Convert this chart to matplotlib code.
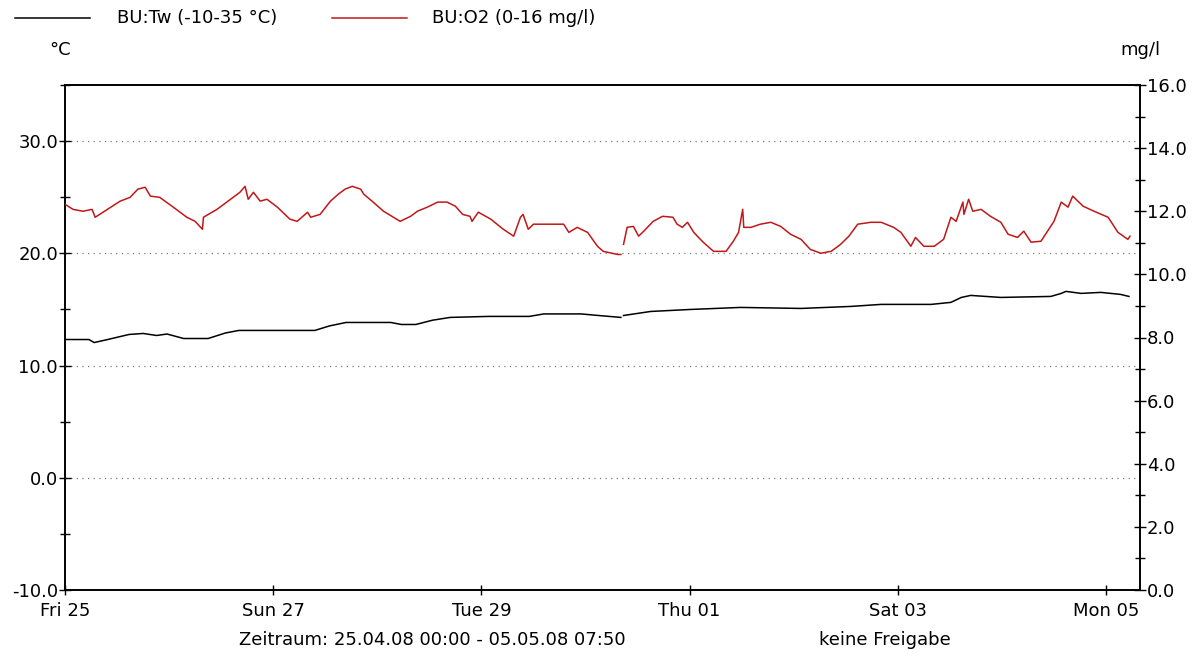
import numpy as np
import matplotlib
matplotlib.use("Agg")
import matplotlib.pyplot as plt
from matplotlib.lines import Line2D
from matplotlib.ticker import MultipleLocator, FormatStrFormatter

# time axis in days since 25.04.08 00:00
day_ticks = [0, 2, 4, 6, 8, 10]
day_labels = ["Fri 25", "Sun 27", "Tue 29", "Thu 01", "Sat 03", "Mon 05"]
period_end = 10 + 7 / 24 + 50 / 1440

# BU:Tw water temperature (left axis, degC)
tw_days = [0.0, 0.23, 0.28, 0.41, 0.615, 0.75, 0.88, 0.98, 1.14, 1.375, 1.54, 1.67,
           2.40, 2.54, 2.70, 3.13, 3.23, 3.37, 3.53, 3.70, 4.07, 4.46, 4.60, 4.96,
           5.125, 5.34, 5.35, 5.365, 5.625, 6.01, 6.49, 7.07, 7.55, 7.84, 8.32, 8.51,
           8.61, 8.70, 8.99, 9.47, 9.57, 9.615, 9.76, 9.95, 10.14, 10.22]
tw_vals = [12.32, 12.32, 12.05, 12.32, 12.77, 12.86, 12.68, 12.81, 12.41, 12.41, 12.90, 13.13,
           13.13, 13.53, 13.84, 13.84, 13.66, 13.66, 14.04, 14.29, 14.38, 14.38, 14.60, 14.60,
           14.46, 14.29, np.nan, 14.46, 14.82, 15.0, 15.18, 15.09, 15.27, 15.45, 15.45, 15.63,
           16.07, 16.25, 16.07, 16.16, 16.43, 16.61, 16.43, 16.52, 16.34, 16.16]

# BU:O2 dissolved oxygen (right axis, mg/l)
o2_days = [0.0, 0.077, 0.173, 0.26, 0.29, 0.365, 0.53, 0.625, 0.70, 0.77, 0.82, 0.91,
           1.04, 1.17, 1.25, 1.32, 1.33, 1.46, 1.59, 1.68, 1.73, 1.76, 1.81, 1.875,
           1.94, 2.04, 2.16, 2.23, 2.33, 2.36, 2.45, 2.55, 2.625, 2.69, 2.76, 2.84,
           2.87, 2.96, 3.06, 3.22, 3.32, 3.385, 3.48, 3.58, 3.67, 3.75, 3.82, 3.89,
           3.91, 3.97, 4.09, 4.21, 4.31, 4.375, 4.40, 4.45, 4.50, 4.63, 4.79, 4.84,
           4.92, 5.02, 5.115, 5.17, 5.31, 5.34, 5.35, 5.365, 5.40, 5.46, 5.51, 5.56,
           5.65, 5.74, 5.84, 5.88, 5.93, 5.98, 6.04, 6.13, 6.23, 6.35, 6.42, 6.47,
           6.51, 6.52, 6.59, 6.68, 6.78, 6.875, 6.97, 7.07, 7.16, 7.26, 7.36, 7.45,
           7.53, 7.615, 7.74, 7.84, 7.96, 8.03, 8.125, 8.17, 8.25, 8.35, 8.44, 8.51,
           8.56, 8.625, 8.635, 8.68, 8.72, 8.80, 8.89, 8.99, 9.06, 9.15, 9.21, 9.28,
           9.375, 9.50, 9.57, 9.635, 9.68, 9.78, 9.885, 10.02, 10.115, 10.21, 10.23]
o2_vals = [12.22, 12.06, 12.00, 12.06, 11.81, 11.97, 12.32, 12.44, 12.70, 12.76, 12.48, 12.44,
           12.13, 11.81, 11.68, 11.43, 11.81, 12.06, 12.38, 12.60, 12.79, 12.38, 12.60, 12.32,
           12.38, 12.13, 11.75, 11.68, 11.97, 11.81, 11.90, 12.32, 12.54, 12.70, 12.79, 12.70,
           12.54, 12.29, 12.00, 11.68, 11.84, 12.00, 12.13, 12.29, 12.29, 12.16, 11.90, 11.84,
           11.68, 11.97, 11.75, 11.43, 11.21, 11.81, 11.90, 11.43, 11.59, 11.59, 11.59, 11.33,
           11.49, 11.33, 10.89, 10.73, 10.63, 10.63, np.nan, 10.95, 11.49, 11.52, 11.21, 11.37,
           11.68, 11.84, 11.81, 11.59, 11.49, 11.65, 11.33, 11.02, 10.73, 10.73, 11.05, 11.33,
           12.06, 11.49, 11.49, 11.59, 11.65, 11.52, 11.27, 11.11, 10.79, 10.67, 10.73, 10.95,
           11.21, 11.59, 11.65, 11.65, 11.49, 11.33, 10.89, 11.17, 10.89, 10.89, 11.11, 11.81,
           11.68, 12.29, 11.90, 12.38, 12.00, 12.06, 11.84, 11.65, 11.27, 11.17, 11.37, 11.02,
           11.05, 11.68, 12.29, 12.13, 12.48, 12.16, 12.00, 11.81, 11.33, 11.11, 11.21]

tw_color = "black"
o2_color = "#c01818"

plt.rcParams["font.family"] = "DejaVu Sans"
plt.rcParams["font.size"] = 13

W, H = 1195, 657
fig = plt.figure(figsize=(W / 100, H / 100), dpi=100)
ax = fig.add_axes([65 / W, 67 / H, 1075 / W, 505 / H])
ax2 = ax.twinx()

ax.plot(tw_days, tw_vals, color=tw_color, lw=1.1, zorder=3)
ax2.plot(o2_days, o2_vals, color=o2_color, lw=1.1, zorder=3)

ax.set_xlim(0, period_end)
ax.set_ylim(-10, 35)
ax2.set_ylim(0, 16)

ax.set_xticks(day_ticks)
ax.set_xticklabels(day_labels)
ax.yaxis.set_major_locator(MultipleLocator(10))
ax.yaxis.set_minor_locator(MultipleLocator(5))
ax.yaxis.set_major_formatter(FormatStrFormatter("%.1f"))
ax2.yaxis.set_major_locator(MultipleLocator(2))
ax2.yaxis.set_minor_locator(MultipleLocator(1))
ax2.yaxis.set_major_formatter(FormatStrFormatter("%.1f"))

ax.tick_params(axis="y", which="major", direction="inout", length=8, width=1, pad=1)
ax.tick_params(axis="y", which="minor", direction="inout", length=7, width=1)
ax.tick_params(axis="x", which="major", direction="inout", length=7, width=1, pad=5)
ax2.tick_params(axis="y", which="major", direction="inout", length=8, width=1, pad=1)
ax2.tick_params(axis="y", which="minor", direction="inout", length=7, width=1)

ax.grid(axis="y", which="major", linestyle=(0, (1, 3.5)), color="#7a7a7a", lw=0.9)
ax.set_axisbelow(True)

for a in (ax, ax2):
    for s in a.spines.values():
        s.set_linewidth(1.2)
        s.set_color("black")

# legend across the top
fig.add_artist(Line2D([15 / W, 90 / W], [1 - 18 / H, 1 - 18 / H], color=tw_color, lw=1.1))
fig.text(117 / W, 1 - 18 / H, "BU:Tw (-10-35 °C)", va="center", ha="left")
fig.add_artist(Line2D([332 / W, 407 / W], [1 - 18 / H, 1 - 18 / H], color=o2_color, lw=1.1))
fig.text(432 / W, 1 - 18 / H, "BU:O2 (0-16 mg/l)", va="center", ha="left")

fig.text(60 / W, 1 - 50 / H, "°C", va="center", ha="center")
fig.text(1140 / W, 1 - 50 / H, "mg/l", va="center", ha="center")

fig.text(432 / W, 1 - 640 / H, "Zeitraum: 25.04.08 00:00 - 05.05.08 07:50", va="center", ha="center")
fig.text(885 / W, 1 - 640 / H, "keine Freigabe", va="center", ha="center")

fig.savefig("out.png", dpi=100)
